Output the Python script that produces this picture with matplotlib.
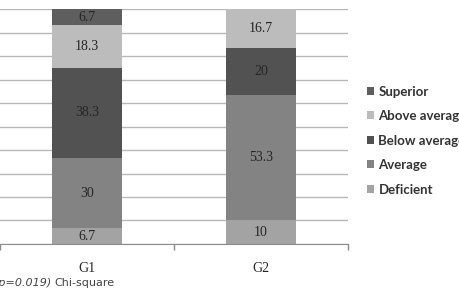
import numpy as np
import matplotlib
matplotlib.use("Agg")
import matplotlib.pyplot as plt

groups = ["G1", "G2"]
levels = ["Deficient", "Average", "Below average", "Above average", "Superior"]
values = {
    "Deficient": [6.7, 10],
    "Average": [30, 53.3],
    "Below average": [38.3, 20],
    "Above average": [18.3, 16.7],
    "Superior": [6.7, 0],
}
colors = {
    "Deficient": "#a3a3a3",
    "Average": "#838383",
    "Below average": "#525252",
    "Above average": "#bcbcbc",
    "Superior": "#5e5e5e",
}
p_text = "(p=0.019)"
test_name = "Chi-square"

fig = plt.figure(figsize=(4.6, 2.88), dpi=100)
ax = fig.add_axes([0.0, 0.153, 0.756, 0.815])

x = np.arange(len(groups))
bottom = np.zeros(len(groups))
handles = {}
for lvl in levels:
    vals = np.array(values[lvl])
    bars = ax.bar(x, vals, width=0.4, bottom=bottom, color=colors[lvl],
                  label=lvl, zorder=2)
    handles[lvl] = bars
    for xi, v, b in zip(x, vals, bottom):
        if v > 0:
            ax.text(xi, b + v / 2, f"{v:g}", ha="center", va="center",
                    fontsize=10, color="#262626", family="Liberation Serif",
                    zorder=3)
    bottom += vals

ax.set_xlim(-0.5, 1.5)
ax.set_ylim(0, 100)
ax.set_yticks(np.arange(0, 101, 10))
ax.yaxis.grid(True, color="#b8b8b8", linewidth=1.0, zorder=0)
ax.set_axisbelow(True)
ax.tick_params(axis="y", left=False, labelleft=False)
ax.set_xticks(x)
ax.set_xticklabels(groups, family="Liberation Serif", fontsize=10, color="#262626")
ax.tick_params(axis="x", which="major", length=0, pad=13)
ax.set_xticks([-0.5, 0.5, 1.5], minor=True)
ax.tick_params(axis="x", which="minor", length=4, color="#8c8c8c", width=1)
for s in ["top", "right", "left"]:
    ax.spines[s].set_visible(False)
ax.spines["bottom"].set_color("#8c8c8c")

order = ["Superior", "Above average", "Below average", "Average", "Deficient"]
leg = fig.legend([handles[k] for k in order], order, loc="upper left",
                 bbox_to_anchor=(0.797, 0.703), frameon=False,
                 handlelength=0.55, handleheight=0.55, handletextpad=0.35,
                 labelspacing=0.95, borderaxespad=0, borderpad=0,
                 prop={"family": "Lato", "size": 9.5, "weight": "bold"})
for t in leg.get_texts():
    t.set_color("#333333")

t1 = fig.text(-0.012, 0.0, p_text, fontsize=8, color="#444444",
              family=["Liberation Sans Narrow", "DejaVu Sans"], style="italic",
              ha="left", va="bottom")
fig.canvas.draw()
bb = t1.get_window_extent().transformed(fig.transFigure.inverted())
fig.text(bb.x1 + 0.006, 0.0, test_name, fontsize=8, color="#444444",
         family=["Liberation Sans Narrow", "DejaVu Sans"],
         ha="left", va="bottom")

fig.savefig("out.png", dpi=100)
